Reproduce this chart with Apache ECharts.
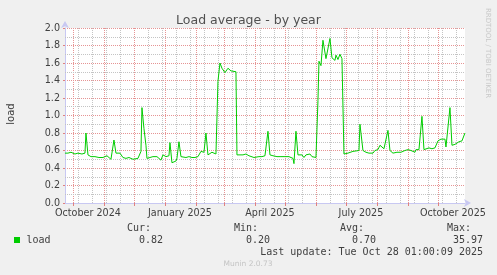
<!DOCTYPE html>
<html>
<head>
<meta charset="utf-8">
<script src="https://cdn.jsdelivr.net/npm/echarts@6/dist/echarts.min.js"></script>
<style>
html,body{margin:0;padding:0;background:#f0f0f0;}
#c{width:497px;height:275px;}
</style>
</head>
<body>
<div id="c"></div>
<script>
// ---- data (daily load averages) ----
const dates = [
'2024-09-23','2024-09-26','2024-09-29','2024-09-30','2024-10-03','2024-10-06','2024-10-10','2024-10-13','2024-10-14','2024-10-16',
'2024-10-19','2024-10-21','2024-10-23','2024-10-25','2024-10-27','2024-10-29','2024-10-31','2024-11-02','2024-11-04','2024-11-06',
'2024-11-08','2024-11-10','2024-11-11','2024-11-13','2024-11-15','2024-11-17','2024-11-18','2024-11-20','2024-11-23','2024-11-26',
'2024-11-28','2024-11-30','2024-12-02','2024-12-05','2024-12-07','2024-12-08','2024-12-09','2024-12-11','2024-12-13','2024-12-14',
'2024-12-17','2024-12-20','2024-12-22','2024-12-24','2024-12-26','2024-12-28','2024-12-29','2024-12-30','2025-01-02','2025-01-04',
'2025-01-05','2025-01-06','2025-01-08','2025-01-10','2025-01-12','2025-01-13','2025-01-15','2025-01-17','2025-01-19','2025-01-22',
'2025-01-25','2025-01-28','2025-01-31','2025-02-03','2025-02-05','2025-02-06','2025-02-09','2025-02-10','2025-02-11','2025-02-13',
'2025-02-15','2025-02-17','2025-02-19','2025-02-21','2025-02-23','2025-02-25','2025-02-27','2025-03-02','2025-03-04','2025-03-05',
'2025-03-08','2025-03-10','2025-03-13','2025-03-14','2025-03-17','2025-03-20','2025-03-23','2025-03-26','2025-03-28','2025-03-31',
'2025-04-02','2025-04-05','2025-04-08','2025-04-11','2025-04-13','2025-04-14','2025-04-16','2025-04-19','2025-04-21','2025-04-23',
'2025-04-25','2025-04-27','2025-04-29','2025-05-01','2025-05-03','2025-05-05','2025-05-07','2025-05-09','2025-05-10','2025-05-12',
'2025-05-14','2025-05-16','2025-05-18','2025-05-20','2025-05-22','2025-05-24','2025-05-26','2025-05-28','2025-05-30','2025-06-01',
'2025-06-02','2025-06-03','2025-06-04','2025-06-06','2025-06-08','2025-06-11','2025-06-13','2025-06-15','2025-06-17','2025-06-20',
'2025-06-21','2025-06-23','2025-06-25','2025-06-27','2025-06-28','2025-06-29','2025-07-01','2025-07-03','2025-07-05','2025-07-08',
'2025-07-10','2025-07-14','2025-07-15','2025-07-18','2025-07-20','2025-07-21','2025-07-24','2025-07-26','2025-07-28','2025-07-30',
'2025-08-01','2025-08-02','2025-08-04','2025-08-06','2025-08-08','2025-08-10','2025-08-12','2025-08-14','2025-08-15','2025-08-17',
'2025-08-19','2025-08-21','2025-08-23','2025-08-25','2025-08-27','2025-08-29','2025-09-01','2025-09-04','2025-09-06','2025-09-08',
'2025-09-09','2025-09-12','2025-09-14','2025-09-15','2025-09-17','2025-09-19','2025-09-22','2025-09-25','2025-09-28','2025-09-30',
'2025-10-01','2025-10-04','2025-10-06','2025-10-08','2025-10-09','2025-10-11','2025-10-13','2025-10-15','2025-10-18','2025-10-20',
'2025-10-22','2025-10-25','2025-10-26','2025-10-28'
];
const loads = [
0.57,0.57,0.58,0.59,0.56,0.57,0.56,0.57,0.80,0.55,
0.53,0.55,0.53,0.54,0.52,0.54,0.52,0.53,0.54,0.52,
0.50,0.50,0.72,0.57,0.56,0.57,0.55,0.52,0.51,0.52,
0.52,0.50,0.51,0.51,0.52,0.59,1.09,0.85,0.66,0.51,
0.52,0.53,0.52,0.53,0.52,0.49,0.48,0.55,0.53,0.53,
0.54,0.69,0.46,0.47,0.48,0.51,0.70,0.53,0.52,0.52,
0.53,0.52,0.52,0.53,0.55,0.59,0.58,0.57,0.80,0.55,
0.56,0.58,0.56,0.56,1.39,1.60,1.54,1.49,1.50,1.54,
1.51,1.50,1.50,0.55,0.55,0.55,0.56,0.54,0.53,0.52,
0.51,0.53,0.53,0.54,0.54,0.82,0.55,0.54,0.55,0.53,
0.54,0.53,0.52,0.53,0.52,0.53,0.52,0.51,0.45,0.82,
0.55,0.53,0.55,0.52,0.55,0.53,0.56,0.53,0.54,0.52,
0.51,1.17,1.62,1.57,1.86,1.65,1.67,1.88,1.66,1.63,
1.69,1.64,1.70,1.65,1.65,0.56,0.56,0.57,0.59,0.59,
0.60,0.60,0.90,0.60,0.59,0.58,0.57,0.58,0.57,0.60,
0.59,0.61,0.66,0.64,0.62,0.64,0.83,0.60,0.58,0.57,
0.59,0.58,0.59,0.58,0.58,0.60,0.61,0.60,0.61,0.58,
0.61,0.61,0.61,0.99,0.61,0.63,0.63,0.62,0.63,0.63,
0.71,0.73,0.71,0.73,0.64,0.65,1.09,0.66,0.67,0.68,
0.70,0.71,0.71,0.80
];
const rangeStart = '2024-09-23 01:00:09';
const rangeEnd = '2025-10-28 01:00:09';
const monthStarts = ['2024-10-01','2024-11-01','2024-12-01','2025-01-01','2025-02-01','2025-03-01','2025-04-01',
  '2025-05-01','2025-06-01','2025-07-01','2025-08-01','2025-09-01','2025-10-01'];
const biweekly = ['2024-10-06','2024-10-20','2024-11-03','2024-11-17','2024-12-15','2024-12-29',
  '2025-01-12','2025-01-26','2025-02-09','2025-02-23','2025-03-09','2025-03-23','2025-04-06','2025-04-20',
  '2025-05-04','2025-05-18','2025-06-15','2025-06-29','2025-07-13','2025-07-27','2025-08-10',
  '2025-08-24','2025-09-07','2025-09-21','2025-10-05','2025-10-19'];
const xLabelDates = ['2024-10-16','2025-01-16','2025-04-16','2025-07-16','2025-10-16'];
const xLabels = ['October 2024','January 2025','April 2025','July 2025','October 2025'];
const yMinorTicks = [0.1,0.3,0.5,0.7,0.9,1.1,1.3,1.5,1.7,1.9];
const legendName = 'load';
const stats = {cur:'0.82', min:'0.20', avg:'0.70', max:'35.97'};
const lastUpdate = 'Last update: Tue Oct 28 01:00:09 2025';

function t(s){
  const [d, tm] = s.split(' ');
  const [y,m,dd] = d.split('-').map(Number);
  let h=0,mi=0,se=0;
  if (tm) [h,mi,se] = tm.split(':').map(Number);
  return Date.UTC(y, m-1, dd, h, mi, se);
}
const seriesData = dates.map((d,i)=>[t(d), loads[i]]);
const labelTimes = xLabelDates.map(t);

const RED = '#e69494', GRAY = '#c4c4c4', AXIS = '#c8c8f2', TXT = '#404040';
const MONO = '"DejaVu Sans Mono", monospace';
const SANS = '"DejaVu Sans", sans-serif';

const chart = echarts.init(document.getElementById('c'), null, {renderer:'canvas'});
const baseX = {type:'value', gridIndex:0, min:t(rangeStart), max:t(rangeEnd), position:'bottom', scale:true};
const minorGridLines = biweekly.map(d=>({xAxis:t(d)})).concat(yMinorTicks.map(v=>({yAxis:v})));
chart.setOption({
  animation:false,
  backgroundColor:'#f0f0f0',
  title:{text:'Load average - by year', left:'center', top:9,
    textStyle:{fontFamily:SANS, fontSize:12.5, fontWeight:'normal', color:'#505050'}},
  grid:{left:65, top:28, width:400, height:175, show:true, backgroundColor:'#ffffff', borderWidth:0, outerBoundsMode:'none'},
  xAxis:[
    Object.assign({}, baseX, {
      axisLine:{show:true, lineStyle:{color:AXIS, width:1}, symbol:['none','arrow'], symbolSize:[6,7], symbolOffset:[0,6]},
      axisTick:{show:true, customValues:monthStarts.map(t), length:3, lineStyle:{color:'#e08080'}},
      splitLine:{show:true, lineStyle:{color:RED, type:[1,1], width:1}},
      axisLabel:{show:false, customValues:monthStarts.map(t)}
    }),
    Object.assign({}, baseX, {
      axisLine:{show:false},
      axisTick:{show:false, customValues:labelTimes},
      splitLine:{show:false},
      axisLabel:{show:true, customValues:labelTimes, margin:5, fontFamily:SANS, fontSize:9.6, color:TXT,
        formatter:function(v){ const i = labelTimes.indexOf(v); return i>=0 ? xLabels[i] : ''; }}
    })
  ],
  yAxis:{type:'value', min:0, max:2, interval:0.2,
    axisLine:{show:true, lineStyle:{color:AXIS, width:1}, symbol:['none','arrow'], symbolSize:[6,7], symbolOffset:[0,7]},
    axisTick:{show:true, length:2, lineStyle:{color:'#e08080'}},
    axisLabel:{margin:5, fontFamily:SANS, fontSize:9.6, color:TXT, formatter:v=>v.toFixed(1)},
    splitLine:{show:true, lineStyle:{color:RED, type:[1,1], width:1}}
  },
  series:[
    {type:'line', name:'minor-grid', xAxisIndex:0, data:[], z:1, silent:true,
      markLine:{silent:true, symbol:['none','none'], label:{show:false}, animation:false,
        lineStyle:{color:GRAY, type:[1,1], width:1}, emphasis:{disabled:true}, data:minorGridLines}},
    {type:'line', name:legendName, xAxisIndex:0, data:seriesData, showSymbol:false, symbol:'none',
      lineStyle:{color:'#00cc00', width:1}, itemStyle:{color:'#00cc00'}, z:5}
  ],
  graphic:[
    {type:'text', x:11, y:114, rotation:Math.PI/2, style:{text:'load', font:'10px '+SANS, fill:TXT, align:'center', verticalAlign:'middle'}},
    {type:'text', x:488, y:53, rotation:-Math.PI/2, style:{text:'RRDTOOL / TOBI OETIKER', font:'7px '+SANS, fill:'#c8c8c8', align:'center', verticalAlign:'middle'}},
    {type:'rect', shape:{x:14, y:237, width:6, height:6}, style:{fill:'#00cc00'}},
    {type:'text', x:26.5, y:240, style:{text:legendName, font:'10px '+MONO, fill:TXT, verticalAlign:'middle'}},
    {type:'text', x:127, y:228, style:{text:'Cur:', font:'10px '+MONO, fill:TXT, verticalAlign:'middle'}},
    {type:'text', x:139, y:240, style:{text:stats.cur, font:'10px '+MONO, fill:TXT, verticalAlign:'middle'}},
    {type:'text', x:234, y:228, style:{text:'Min:', font:'10px '+MONO, fill:TXT, verticalAlign:'middle'}},
    {type:'text', x:246, y:240, style:{text:stats.min, font:'10px '+MONO, fill:TXT, verticalAlign:'middle'}},
    {type:'text', x:340, y:228, style:{text:'Avg:', font:'10px '+MONO, fill:TXT, verticalAlign:'middle'}},
    {type:'text', x:352, y:240, style:{text:stats.avg, font:'10px '+MONO, fill:TXT, verticalAlign:'middle'}},
    {type:'text', x:447, y:228, style:{text:'Max:', font:'10px '+MONO, fill:TXT, verticalAlign:'middle'}},
    {type:'text', x:453, y:240, style:{text:stats.max, font:'10px '+MONO, fill:TXT, verticalAlign:'middle'}},
    {type:'text', x:483, y:252, style:{text:lastUpdate, font:'10px '+MONO, fill:TXT, align:'right', verticalAlign:'middle'}},
    {type:'text', x:248, y:264, style:{text:'Munin 2.0.73', font:'7.5px '+SANS, fill:'#c4c4c4', align:'center', verticalAlign:'middle'}}
  ]
});
</script>
</body>
</html>
